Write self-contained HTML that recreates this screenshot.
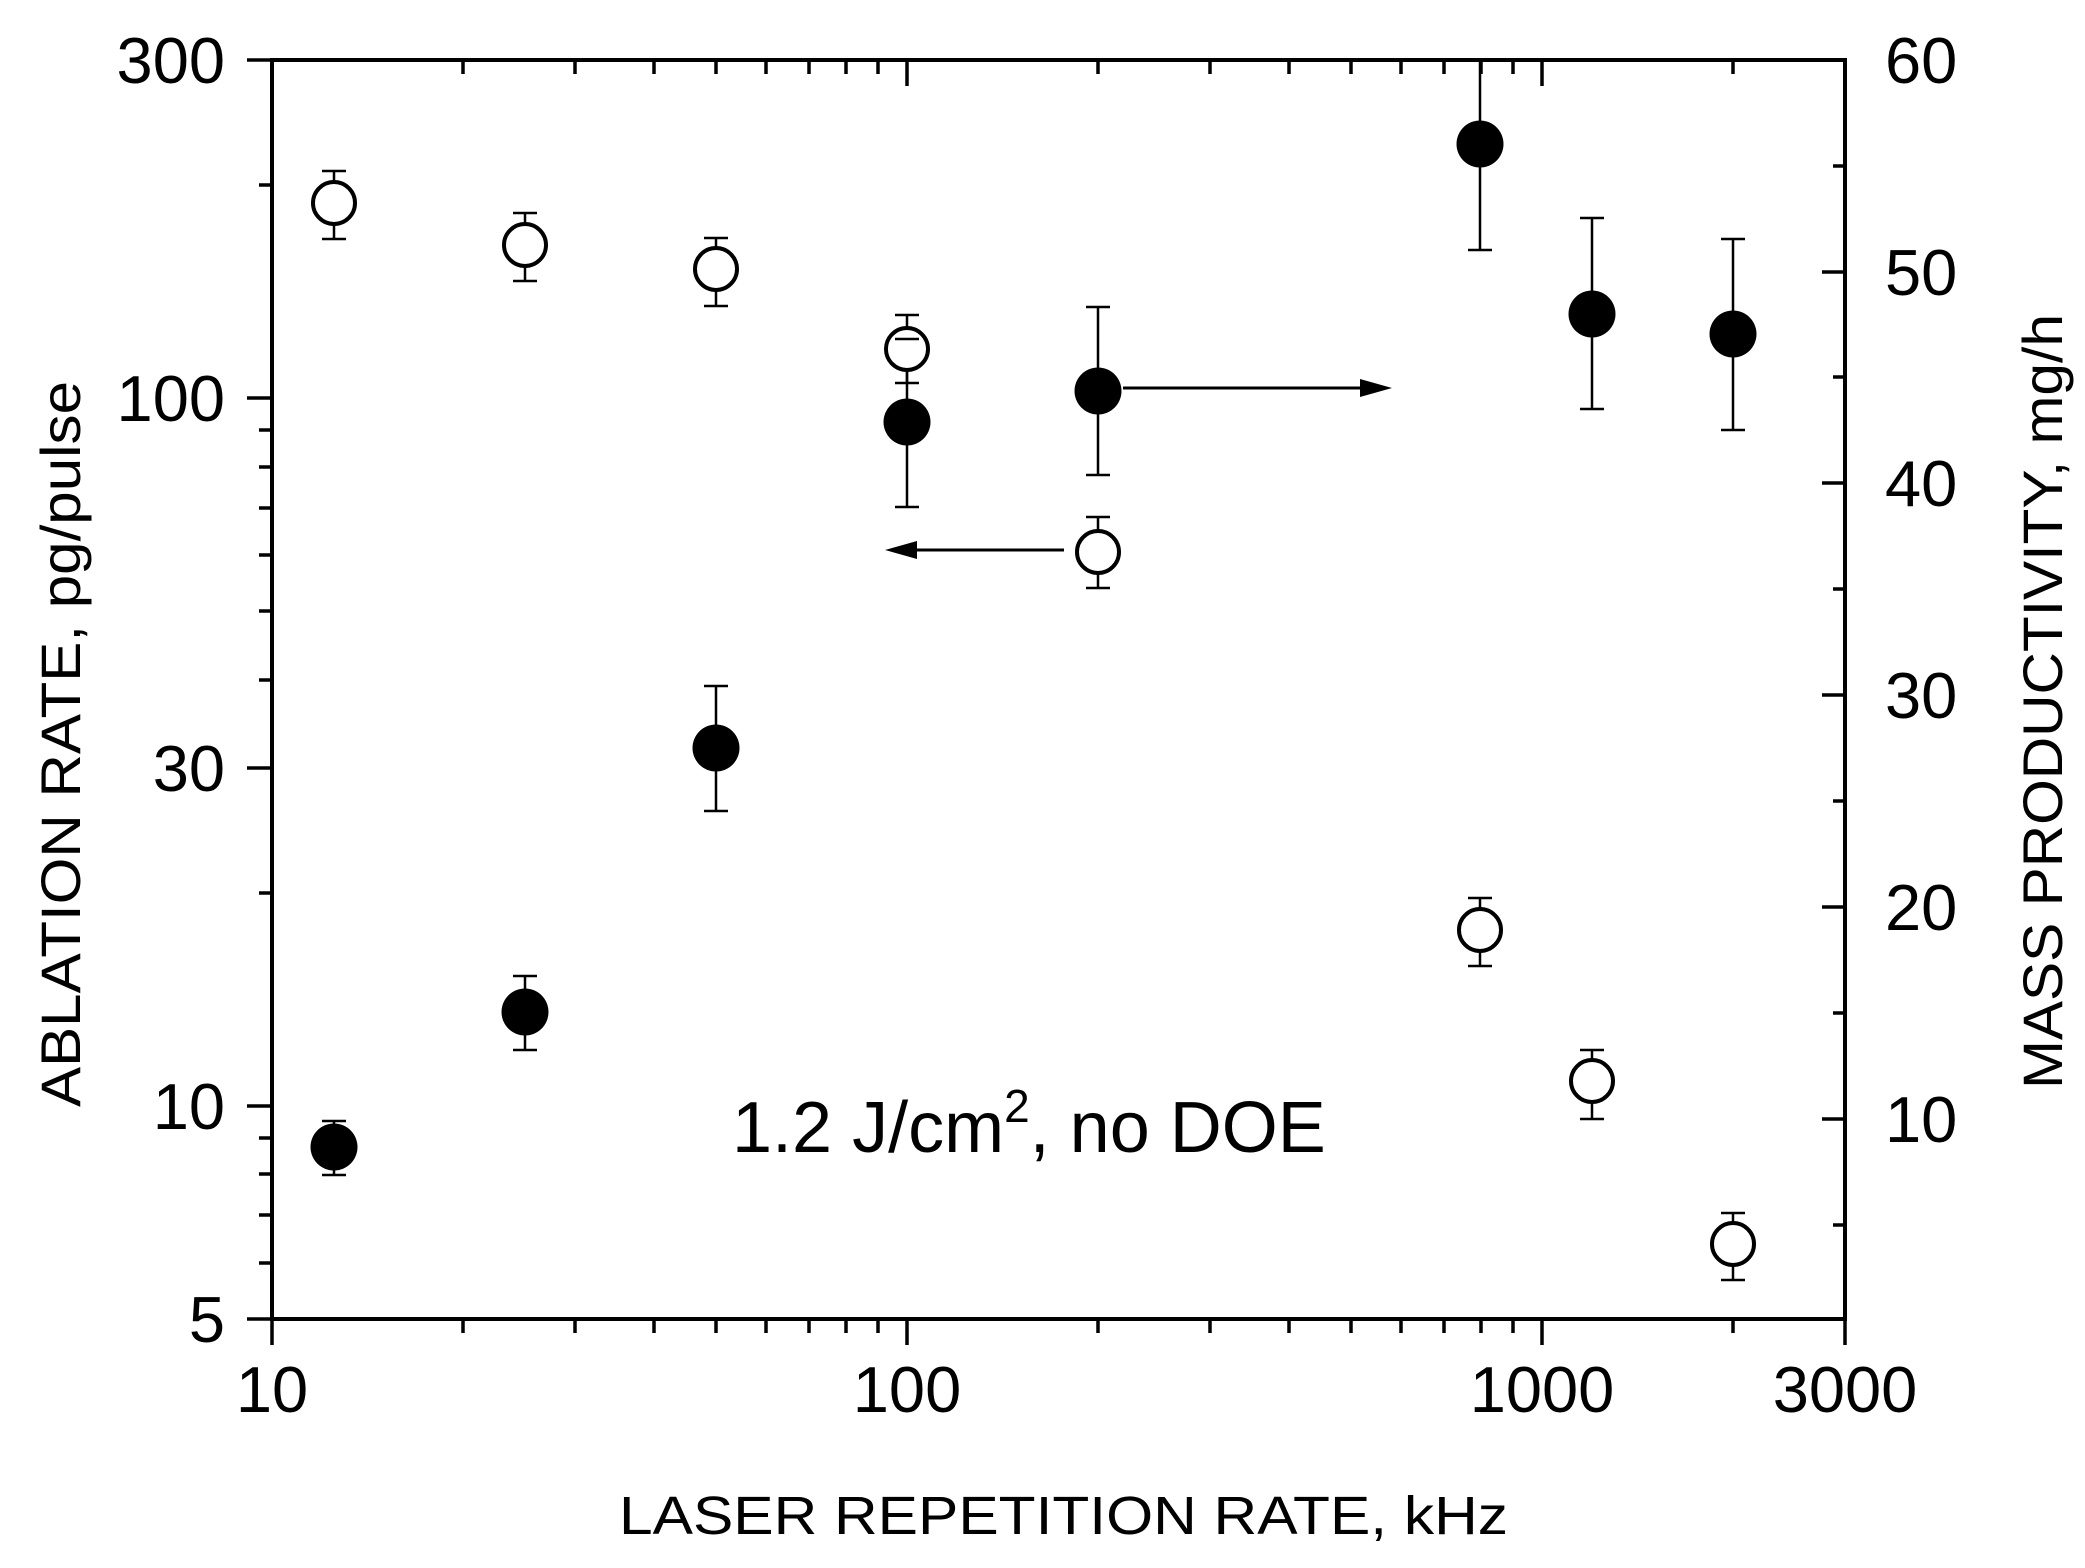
<!DOCTYPE html>
<html><head><meta charset="utf-8"><style>html,body{margin:0;padding:0;background:#fff}svg{display:block}</style></head><body>
<svg width="2085" height="1568" viewBox="0 0 2085 1568" xmlns="http://www.w3.org/2000/svg" font-family="Liberation Sans, Arial, sans-serif">
<rect width="2085" height="1568" fill="#fff"/>
<g stroke="#000" stroke-width="4" fill="none">
<rect x="272" y="60" width="1573" height="1259"/>
</g>
<g stroke="#000" stroke-width="3.5">
<!-- bottom x ticks outward, top inward -->
<line x1="272" y1="1319" x2="272" y2="1345"/><line x1="907" y1="1319" x2="907" y2="1345"/><line x1="1542" y1="1319" x2="1542" y2="1345"/><line x1="1845" y1="1319" x2="1845" y2="1345"/>
<line x1="463" y1="1319" x2="463" y2="1333"/><line x1="575" y1="1319" x2="575" y2="1333"/><line x1="654" y1="1319" x2="654" y2="1333"/><line x1="716" y1="1319" x2="716" y2="1333"/><line x1="766" y1="1319" x2="766" y2="1333"/><line x1="809" y1="1319" x2="809" y2="1333"/><line x1="846" y1="1319" x2="846" y2="1333"/><line x1="878" y1="1319" x2="878" y2="1333"/>
<line x1="1098" y1="1319" x2="1098" y2="1333"/><line x1="1210" y1="1319" x2="1210" y2="1333"/><line x1="1289" y1="1319" x2="1289" y2="1333"/><line x1="1351" y1="1319" x2="1351" y2="1333"/><line x1="1401" y1="1319" x2="1401" y2="1333"/><line x1="1444" y1="1319" x2="1444" y2="1333"/><line x1="1481" y1="1319" x2="1481" y2="1333"/><line x1="1513" y1="1319" x2="1513" y2="1333"/><line x1="1733" y1="1319" x2="1733" y2="1333"/>
<line x1="907" y1="60" x2="907" y2="86"/><line x1="1542" y1="60" x2="1542" y2="86"/>
<line x1="463" y1="60" x2="463" y2="74"/><line x1="575" y1="60" x2="575" y2="74"/><line x1="654" y1="60" x2="654" y2="74"/><line x1="716" y1="60" x2="716" y2="74"/><line x1="766" y1="60" x2="766" y2="74"/><line x1="809" y1="60" x2="809" y2="74"/><line x1="846" y1="60" x2="846" y2="74"/><line x1="878" y1="60" x2="878" y2="74"/>
<line x1="1098" y1="60" x2="1098" y2="74"/><line x1="1210" y1="60" x2="1210" y2="74"/><line x1="1289" y1="60" x2="1289" y2="74"/><line x1="1351" y1="60" x2="1351" y2="74"/><line x1="1401" y1="60" x2="1401" y2="74"/><line x1="1444" y1="60" x2="1444" y2="74"/><line x1="1481" y1="60" x2="1481" y2="74"/><line x1="1513" y1="60" x2="1513" y2="74"/><line x1="1733" y1="60" x2="1733" y2="74"/>
<!-- left y ticks outward (log 5..300) -->
<line x1="247" y1="1319" x2="272" y2="1319"/><line x1="247" y1="1106" x2="272" y2="1106"/><line x1="247" y1="768" x2="272" y2="768"/><line x1="247" y1="398" x2="272" y2="398"/><line x1="247" y1="60" x2="272" y2="60"/>
<line x1="259" y1="1263" x2="272" y2="1263"/><line x1="259" y1="1215" x2="272" y2="1215"/><line x1="259" y1="1174" x2="272" y2="1174"/><line x1="259" y1="1138" x2="272" y2="1138"/>
<line x1="259" y1="893" x2="272" y2="893"/><line x1="259" y1="680" x2="272" y2="680"/><line x1="259" y1="611" x2="272" y2="611"/><line x1="259" y1="555" x2="272" y2="555"/><line x1="259" y1="508" x2="272" y2="508"/><line x1="259" y1="467" x2="272" y2="467"/><line x1="259" y1="430" x2="272" y2="430"/><line x1="259" y1="185" x2="272" y2="185"/>
<!-- right y ticks inward -->
<line x1="1822" y1="60" x2="1845" y2="60"/><line x1="1822" y1="272" x2="1845" y2="272"/><line x1="1822" y1="483" x2="1845" y2="483"/><line x1="1822" y1="695" x2="1845" y2="695"/><line x1="1822" y1="907" x2="1845" y2="907"/><line x1="1822" y1="1119" x2="1845" y2="1119"/>
<line x1="1833" y1="166" x2="1845" y2="166"/><line x1="1833" y1="377" x2="1845" y2="377"/><line x1="1833" y1="589" x2="1845" y2="589"/><line x1="1833" y1="801" x2="1845" y2="801"/><line x1="1833" y1="1013" x2="1845" y2="1013"/><line x1="1833" y1="1225" x2="1845" y2="1225"/>
</g>
<g font-size="65" fill="#000">
<g text-anchor="end">
<text x="225" y="83">300</text><text x="225" y="421">100</text><text x="225" y="791">30</text><text x="225" y="1129">10</text><text x="225" y="1342">5</text>
</g>
<g text-anchor="start">
<text x="1885" y="83">60</text><text x="1885" y="295">50</text><text x="1885" y="506">40</text><text x="1885" y="718">30</text><text x="1885" y="930">20</text><text x="1885" y="1142">10</text>
</g>
<g text-anchor="middle">
<text x="272" y="1412">10</text><text x="907" y="1412">100</text><text x="1542" y="1412">1000</text><text x="1845" y="1412">3000</text>
</g>
</g>
<text x="619" y="1534" font-size="54" textLength="889" lengthAdjust="spacingAndGlyphs">LASER REPETITION RATE, kHz</text>
<text transform="translate(80,1107) rotate(-90)" font-size="56" textLength="726" lengthAdjust="spacingAndGlyphs">ABLATION RATE, pg/pulse</text>
<text transform="translate(2062,1089) rotate(-90)" font-size="56" textLength="775" lengthAdjust="spacingAndGlyphs">MASS PRODUCTIVITY, mg/h</text>
<text x="732" y="1152" font-size="72">1.2 J/cm<tspan font-size="46" dy="-30">2</tspan><tspan dy="30">, no DOE</tspan></text>
<!-- error bars -->
<g stroke="#000" stroke-width="2.5">
<path d="M334 171V239M322 171H346M322 239H346"/>
<path d="M525 213V281M513 213H537M513 281H537"/>
<path d="M716 238V306M704 238H728M704 306H728"/>
<path d="M907 315V383M895 315H919M895 383H919"/>
<path d="M1098 517V588M1086 517H1110M1086 588H1110"/>
<path d="M1480 898V966M1468 898H1492M1468 966H1492"/>
<path d="M1592 1050V1119M1580 1050H1604M1580 1119H1604"/>
<path d="M1733 1213V1280M1721 1213H1745M1721 1280H1745"/>
<path d="M334 1121V1175M322 1121H346M322 1175H346"/>
<path d="M525 976V1050M513 976H537M513 1050H537"/>
<path d="M716 686V811M704 686H728M704 811H728"/>
<path d="M907 339V507M895 339H919M895 507H919"/>
<path d="M1098 307V475M1086 307H1110M1086 475H1110"/>
<path d="M1480 60V250M1468 250H1492"/>
<path d="M1592 218V409M1580 218H1604M1580 409H1604"/>
<path d="M1733 239V430M1721 239H1745M1721 430H1745"/>
</g>
<!-- open circles -->
<g stroke="#000" stroke-width="4" fill="#fff">
<circle cx="334" cy="203" r="21"/><circle cx="525" cy="245" r="21"/><circle cx="716" cy="269" r="21"/><circle cx="907" cy="349" r="21"/>
<circle cx="1098" cy="552" r="21"/><circle cx="1480" cy="930" r="21"/><circle cx="1592" cy="1081" r="21"/><circle cx="1733" cy="1244" r="21"/>
</g>
<g stroke="#000" stroke-width="2.5"><path d="M895 339H919"/></g>
<!-- filled circles -->
<g fill="#000">
<circle cx="334" cy="1147" r="23.5"/><circle cx="525" cy="1012" r="23.5"/><circle cx="716" cy="748" r="23.5"/><circle cx="907" cy="422" r="23.5"/>
<circle cx="1098" cy="391" r="23.5"/><circle cx="1480" cy="144" r="23.5"/><circle cx="1592" cy="314" r="23.5"/><circle cx="1733" cy="334" r="23.5"/>
</g>
<!-- arrows -->
<g stroke="#000" stroke-width="3">
<line x1="1123" y1="388" x2="1365" y2="388"/>
<line x1="1064" y1="550" x2="912" y2="550"/>
</g>
<polygon points="1392,388 1360,379 1360,397" fill="#000"/>
<polygon points="885,550 917,541 917,559" fill="#000"/>
</svg>
</body></html>
